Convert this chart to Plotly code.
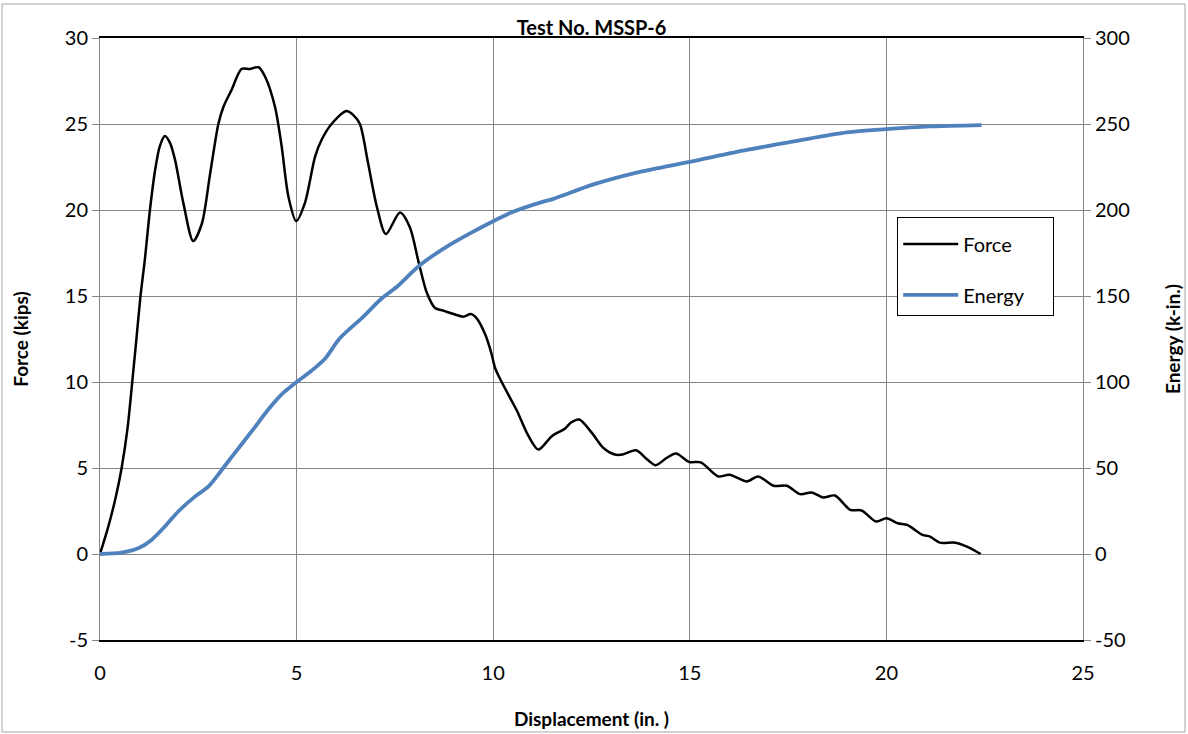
import plotly.graph_objects as go

# Force vs displacement
force_x = [0, 0.2, 0.4, 0.55, 0.7, 0.82, 0.93, 1.03, 1.14, 1.27, 1.40, 1.52, 1.65, 1.78, 1.91, 2.12, 2.37, 2.59,
           2.80, 3.01, 3.14, 3.35, 3.60, 3.81, 4.03, 4.20, 4.45, 4.62, 4.79, 4.99, 5.21, 5.47, 5.64, 5.89,
           6.27, 6.45, 6.61, 6.82, 7.04, 7.27, 7.63, 7.88, 8.10, 8.31, 8.52, 8.73, 8.99, 9.24, 9.43, 9.58,
           9.79, 9.95, 10.05, 10.18, 10.47, 10.61, 10.90, 11.15, 11.49, 11.83, 11.97, 12.19, 12.51, 12.80,
           13.09, 13.29, 13.63, 13.92, 14.13, 14.41, 14.65, 14.99, 15.28, 15.72, 16.01, 16.45, 16.74, 17.13,
           17.47, 17.81, 18.10, 18.39, 18.69, 19.08, 19.37, 19.74, 20.0, 20.29, 20.53, 20.92, 21.11, 21.36,
           21.75, 22.09, 22.40]
force_y = [0, 1.5, 3.3, 5.0, 7.3, 10.0, 12.6, 15.0, 17.1, 20.0, 22.3, 23.7, 24.3, 23.9, 22.9, 20.4, 18.2, 19.2,
           22.1, 25.0, 26.0, 27.0, 28.2, 28.2, 28.3, 27.75, 26.0, 23.7, 20.8, 19.36, 20.4, 23.1, 24.1, 25.0,
           25.75, 25.5, 25.0, 22.7, 20.2, 18.6, 19.85, 19.0, 17.0, 15.2, 14.3, 14.15, 13.95, 13.8, 13.95, 13.7,
           12.8, 11.7, 10.8, 10.16, 8.9, 8.3, 6.85, 6.07, 6.85, 7.3, 7.63, 7.82, 7.04, 6.17,
           5.78, 5.78, 6.03, 5.49, 5.16, 5.58, 5.84, 5.35, 5.33, 4.51, 4.61, 4.22, 4.51, 3.97,
           3.97, 3.48, 3.58, 3.29, 3.40, 2.57, 2.53, 1.89, 2.08, 1.79, 1.69, 1.11, 1.01, 0.66,
           0.66, 0.39, 0.0]

# Energy vs displacement
energy_x = [0, 0.55, 0.97, 1.31, 1.65, 1.99, 2.42, 2.76, 3.10, 3.43, 3.86, 4.28, 4.62, 5.0, 5.37, 5.71,
            6.10, 6.70, 7.12, 7.55, 8.14, 8.82, 9.41, 10.0, 10.51, 11.19, 11.53, 12.55, 13.73, 15.0,
            16.45, 17.72, 18.99, 20.0, 21.11, 22.42]
energy_y = [0, 0.8, 3.3, 8.2, 16, 24.7, 33.5, 39.3, 49, 58.8, 71.4, 84, 92.8, 100, 106.4, 113.2,
            125.4, 138, 147.7, 155.4, 168, 178.7, 186.4, 193.5, 199, 204.3, 206.5, 214.9, 222.2, 228,
            234.9, 240.2, 245.1, 247, 248.6, 249.4]

x_ticks = [0, 5, 10, 15, 20, 25]
force_ticks = [-5, 0, 5, 10, 15, 20, 25, 30]
force_labels = ["-5", "0", "5", "10", "15", "20", "25", "30"]
energy_ticks = [-50, 0, 50, 100, 150, 200, 250, 300]
energy_labels = ["-50", "0", "50", "100", "150", "200", "250", "300"]

FONT = "Lato"
GRID = "#868686"
NB = "\u00a0"

fig = go.Figure()
fig.add_trace(go.Scatter(x=force_x, y=force_y, name="Force" + NB * 7, mode="lines", legendgroup="a",
                         line=dict(color="black", width=2.5, shape="spline", smoothing=0.8)))
fig.add_trace(go.Scatter(x=energy_x, y=energy_y, name="Energy" + NB * 4, mode="lines", yaxis="y2",
                         legendgroup="b",
                         line=dict(color="#4F81BD", width=3.8, shape="spline", smoothing=0.8)))

fig.update_layout(
    width=1188, height=734,
    margin=dict(l=100, r=105, t=38, b=94),
    paper_bgcolor="white", plot_bgcolor="white",
    font=dict(family=FONT, size=20, color="black"),
    title=dict(text="<b>Test No. MSSP-6</b>", x=0.4979, xanchor="center", y=0.962, yanchor="middle",
               font=dict(family=FONT, size=20, color="black")),
    xaxis=dict(range=[0, 25], tickvals=x_ticks, showgrid=True, gridcolor=GRID, gridwidth=1,
               showline=True, linecolor="black", linewidth=1.5, mirror=True, zeroline=False,
               ticks="", ticklen=0, ticklabelstandoff=14, tickfont=dict(size=20), automargin=False,
               title=dict(text="<b>Displacement (in. )</b>", standoff=30, font=dict(size=19))),
    yaxis=dict(range=[-5, 30], tickvals=force_ticks, ticktext=force_labels, showgrid=True,
               gridcolor=GRID, gridwidth=1, automargin=False,
               showline=True, linecolor=GRID, linewidth=1, zeroline=False,
               ticks="outside", ticklen=7, tickcolor=GRID, tickfont=dict(size=20),
               title=dict(text="<b>Force (kips)</b>", standoff=31, font=dict(size=19))),
    yaxis2=dict(range=[-50, 300], tickvals=energy_ticks, ticktext=energy_labels, overlaying="y",
                side="right", automargin=False,
                showgrid=False, showline=True, linecolor=GRID, linewidth=1, zeroline=False,
                ticks="outside", ticklen=7, tickcolor=GRID, tickfont=dict(size=20),
                title=dict(text="<b>Energy (k-in.)</b>", standoff=37, font=dict(size=19))),
    legend=dict(x=0.811, y=0.7027, xanchor="left", yanchor="top",
                bordercolor="black", borderwidth=1, bgcolor="white",
                font=dict(family=FONT, size=20), tracegroupgap=22, traceorder="grouped",
                itemwidth=55,
                title=dict(text=NB, font=dict(size=5))),
    shapes=[dict(type="rect", xref="paper", yref="paper", x0=-0.0997, x1=1.1038, y0=-0.1528, y1=1.0565,
                 line=dict(color="#A6A6A6", width=1), fillcolor="rgba(0,0,0,0)", layer="below")],
)

fig.write_html("out.html")
